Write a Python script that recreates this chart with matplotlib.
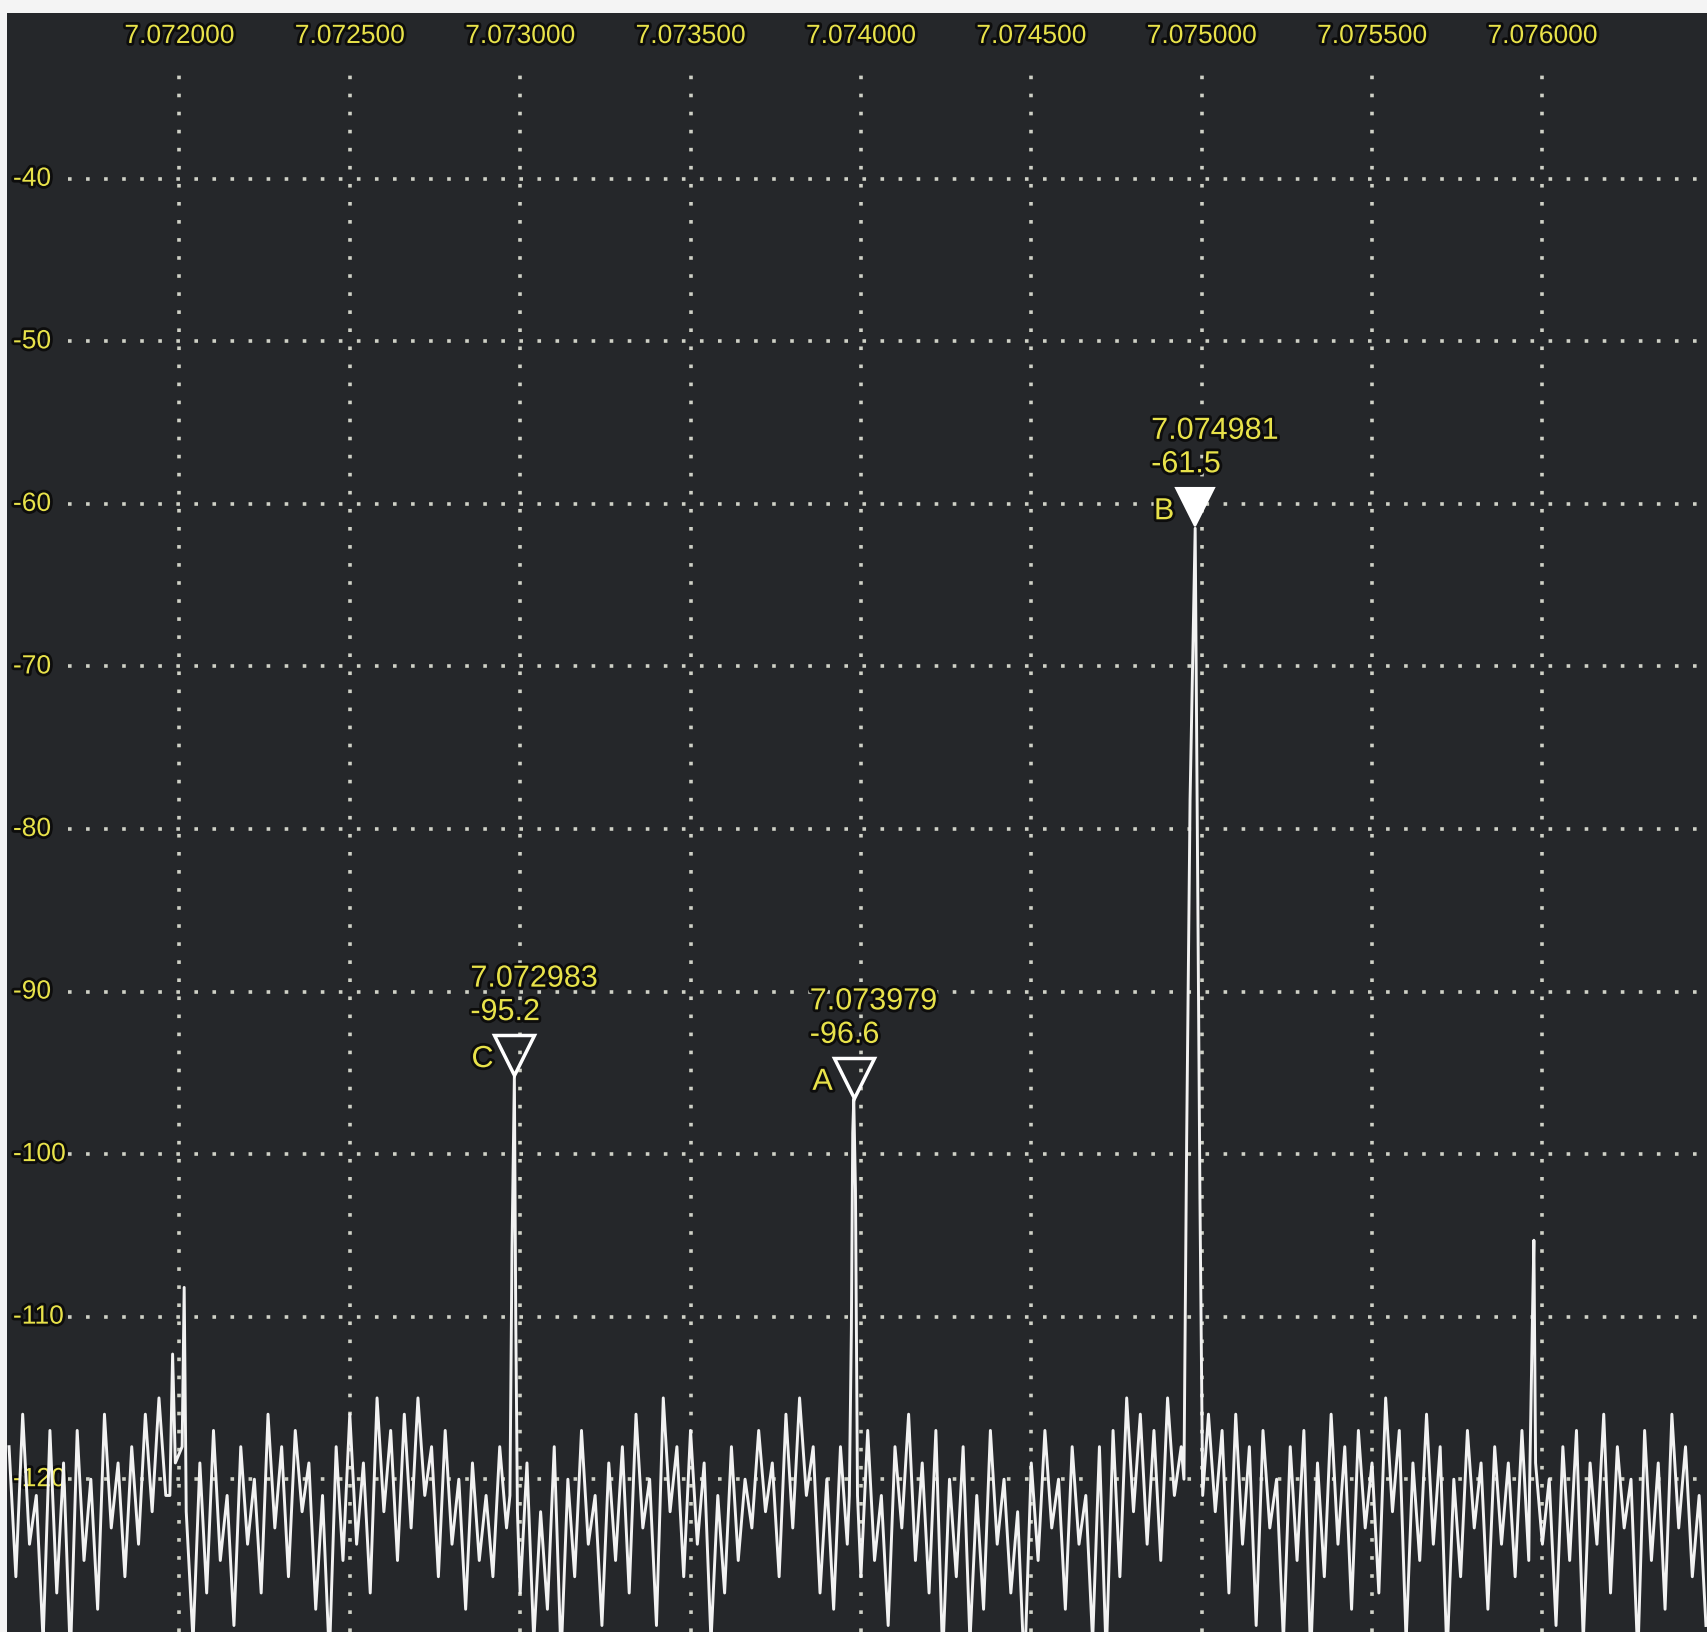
import numpy as np
import matplotlib
matplotlib.use("Agg")
import matplotlib.pyplot as plt
import matplotlib.transforms as mtransforms
import matplotlib.patheffects as pe

# -------------------------------
# 1. Data read off the spectrum display
# noise floor: one reading every 20 Hz, starting at 7.071500 MHz
noise_start_hz = 7071500
noise_step_hz = 20
noise_db = [
    -118, -126, -116, -124, -121, -130, -117, -127, -119, -131,
    -117, -125, -120, -128, -116, -123, -119, -126, -118, -124,
    -116, -122, -115, -121, -114, -120, -116, -130, -119, -127,
    -117, -125, -121, -129, -118, -124, -120, -127, -116, -123,
    -118, -126, -117, -122, -119, -128, -121, -131, -118, -125,
    -116, -124, -119, -127, -115, -122, -117, -125, -116, -123,
    -115, -121, -118, -126, -117, -124, -120, -128, -119, -125,
    -121, -126, -118, -123, -120, -127, -119, -130, -122, -128,
    -118, -131, -120, -126, -117, -124, -121, -129, -119, -125,
    -118, -127, -116, -123, -120, -129, -115, -122, -118, -126,
    -117, -124, -119, -130, -121, -127, -118, -125, -120, -123,
    -117, -122, -119, -126, -116, -123, -115, -121, -118, -127,
    -120, -128, -118, -124, -119, -126, -117, -125, -121, -129,
    -118, -123, -116, -125, -119, -127, -117, -131, -120, -126,
    -118, -130, -121, -128, -117, -124, -120, -127, -122, -132,
    -119, -125, -117, -123, -120, -128, -118, -124, -121, -130,
    -118, -131, -117, -126, -115, -122, -116, -124, -117, -125,
    -115, -121, -118, -126, -119, -124, -116, -122, -117, -127,
    -116, -124, -118, -129, -117, -123, -120, -130, -118, -125,
    -117, -131, -119, -126, -116, -124, -118, -128, -117, -123,
    -119, -127, -115, -122, -117, -130, -119, -125, -116, -124,
    -118, -131, -120, -126, -117, -123, -119, -128, -118, -124,
    -119, -126, -117, -125, -116, -124, -120, -129, -118, -125,
    -117, -130, -119, -124, -116, -127, -118, -123, -120, -131,
    -117, -125, -119, -128, -116, -123, -118, -126, -121, -129,
]

# narrow carriers: the points that make up each peak (Hz, dB)
spike1_hz = [7071972, 7071980, 7071988, 7072008, 7072014, 7072020]
spike1_db = [-121, -112.3, -119, -118, -108.2, -122]

spike_c_hz = [7072970, 7072976, 7072983, 7072987, 7072992]
spike_c_db = [-121, -105.9, -95.2, -110, -122]

spike_a_hz = [7073966, 7073972, 7073976, 7073979, 7073984, 7073990]
spike_a_db = [-121, -110.8, -98.7, -96.6, -102.2, -121]

spike_b_hz = [7074948, 7074956, 7074966, 7074981, 7074995, 7075003]
spike_b_db = [-120, -99.1, -78.2, -61.5, -102.7, -121]

spike5_hz = [7075962, 7075970, 7075975, 7075980]
spike5_db = [-121, -111, -105.3, -119]

# marker readouts
marker_names = ["C", "A", "B"]
marker_hz = [7072983, 7073979, 7074981]
marker_db = [-95.2, -96.6, -61.5]
marker_filled = [False, False, True]

# axis ticks
freq_ticks_hz = [7072000, 7072500, 7073000, 7073500, 7074000,
                 7074500, 7075000, 7075500, 7076000]
level_ticks_db = [-40, -50, -60, -70, -80, -90, -100, -110, -120]

# -------------------------------
# 2. Build the trace (noise floor with the carriers dropped in)
freqs = noise_start_hz + noise_step_hz * np.arange(len(noise_db))
levels = np.array(noise_db, dtype=float)
spikes = [(spike1_hz, spike1_db), (spike_c_hz, spike_c_db),
          (spike_a_hz, spike_a_db), (spike_b_hz, spike_b_db),
          (spike5_hz, spike5_db)]
for s_hz, s_db in spikes:
    keep = (freqs < min(s_hz)) | (freqs > max(s_hz))
    freqs = np.concatenate([freqs[keep], s_hz])
    levels = np.concatenate([levels[keep], s_db])
order = np.argsort(freqs)
freqs = freqs[order]
levels = levels[order]

# -------------------------------
# 3. Plot
bg = "#25272a"
yellow = "#e8e24a"
grid_col = "#cfd1c6"
halo = [pe.withStroke(linewidth=4, foreground="#0d0d0d")]
font = "Liberation Sans"

fig = plt.figure(figsize=(17.08, 16.32), dpi=100, facecolor="#f4f4f4")
ax = fig.add_axes([7 / 1708, 0, 1701 / 1708, 1619 / 1632])
ax.set_facecolor(bg)
for s in ax.spines.values():
    s.set_visible(False)
ax.set_xticks([])
ax.set_yticks([])

x_min, x_max = 7071494, 7076486
y_min, y_max = -129.4, -29.8
ax.set_xlim(x_min, x_max)
ax.set_ylim(y_min, y_max)

# dotted grid, kept clear of the tick labels
grid_style = dict(color=grid_col, linewidth=2.6, linestyle=(0, (1, 4)), zorder=1)
ax.vlines(freq_ticks_hz, y_min, -32.85, **grid_style)
ax.hlines(level_ticks_db, 7071673, x_max, **grid_style)

# tick labels drawn inside the plot area
for f in freq_ticks_hz:
    ax.text(f, 0.9858, f"{f / 1e6:.6f}", transform=ax.get_xaxis_transform(),
            ha="center", va="center", color=yellow, fontsize=19,
            family=font, path_effects=halo)
for d in level_ticks_db:
    ax.text(0.0035, d, f"{d}", transform=ax.get_yaxis_transform(),
            ha="left", va="center", color=yellow, fontsize=19,
            family=font, path_effects=halo)

# spectrum trace
ax.plot(freqs, levels, color="#f2f2f2", linewidth=2.1, zorder=3)

# markers with their readouts
for name, hz, db, filled in zip(marker_names, marker_hz, marker_db, marker_filled):
    tri = mtransforms.offset_copy(ax.transData, fig=fig, x=0, y=21, units="dots")
    if filled:
        ax.plot(hz, db, marker="v", markersize=27, color="white",
                markeredgewidth=1.5, transform=tri, zorder=5)
    else:
        ax.plot(hz, db, marker="v", markersize=29, markerfacecolor="none",
                markeredgecolor="white", markeredgewidth=2.5,
                transform=tri, zorder=5)
    lab = mtransforms.offset_copy(ax.transData, fig=fig, x=-44, y=49, units="dots")
    ax.text(hz, db, f"{hz / 1e6:.6f}\n{db:.1f}", transform=lab,
            ha="left", va="bottom", color=yellow, fontsize=22,
            family=font, linespacing=1.15, path_effects=halo, zorder=6)
    let = mtransforms.offset_copy(ax.transData, fig=fig, x=-21, y=17, units="dots")
    ax.text(hz, db, name, transform=let, ha="right", va="center",
            color=yellow, fontsize=22, family=font, path_effects=halo, zorder=6)

fig.savefig("out.png", dpi=100, facecolor=fig.get_facecolor())
